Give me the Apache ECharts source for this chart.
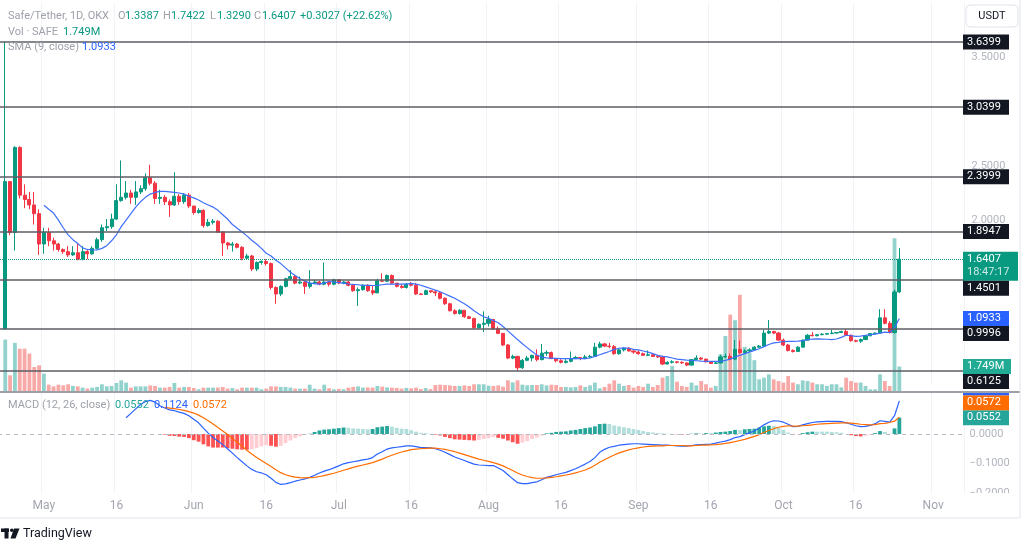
<!DOCTYPE html>
<html>
<head>
<meta charset="utf-8">
<script src="https://cdn.jsdelivr.net/npm/echarts@6/dist/echarts.min.js"></script>
<style>
html, body { margin: 0; padding: 0; background: #fff; }
#chart { width: 1024px; height: 541px; }
</style>
</head>
<body>
<div id="chart"></div>
<script>
// SAFE/USDT daily, OKX. First candle is 2023-04-23, one empty slot before it.
const firstDay = '2023-04-22';
const dayCount = 200;
const monthNames = ['Jan', 'Feb', 'Mar', 'Apr', 'May', 'Jun', 'Jul', 'Aug', 'Sep', 'Oct', 'Nov', 'Dec'];

const opens = [
  0.9996, 2.355, 1.886, 2.67, 2.23, 2.19, 2.14, 2.06, 1.78, 1.886,
  1.81, 1.78, 1.73, 1.71, 1.68, 1.70, 1.64, 1.71, 1.69, 1.74,
  1.82, 1.93, 1.94, 2.01, 2.18, 2.21, 2.25, 2.21, 2.26, 2.29,
  2.39, 2.34, 2.20, 2.21, 2.17, 2.14, 2.22, 2.17, 2.23, 2.13,
  2.07, 2.09, 1.95, 1.98, 1.99, 1.89, 1.79, 1.77, 1.78, 1.75,
  1.65, 1.67, 1.55, 1.61, 1.62, 1.60, 1.38, 1.32, 1.39, 1.46,
  1.48, 1.42, 1.43, 1.39, 1.42, 1.43, 1.41, 1.43, 1.41, 1.45,
  1.42, 1.43, 1.40, 1.35, 1.36, 1.40, 1.35, 1.33, 1.44, 1.438,
  1.49, 1.42, 1.39, 1.38, 1.41, 1.40, 1.32, 1.315, 1.35, 1.34,
  1.33, 1.28, 1.23, 1.165, 1.14, 1.17, 1.11, 1.095, 1.01, 1.04,
  1.05, 1.085, 1.00, 0.957, 0.85, 0.73, 0.745, 0.64, 0.709, 0.73,
  0.755, 0.715, 0.775, 0.78, 0.725, 0.705, 0.69, 0.70, 0.725, 0.735,
  0.725, 0.74, 0.745, 0.83, 0.86, 0.84, 0.835, 0.77, 0.805, 0.82,
  0.795, 0.785, 0.77, 0.755, 0.76, 0.745, 0.74, 0.675, 0.69, 0.695,
  0.69, 0.685, 0.665, 0.715, 0.73, 0.72, 0.695, 0.68, 0.685, 0.74,
  0.745, 0.72, 0.81, 0.78, 0.795, 0.805, 0.83, 0.84, 0.96, 0.975,
  0.96, 0.895, 0.85, 0.80, 0.79, 0.83, 0.895, 0.94, 0.935, 0.945,
  0.95, 0.955, 0.96, 0.965, 0.975, 0.94, 0.89, 0.885, 0.90, 0.935,
  0.955, 0.96, 1.10, 1.05, 0.965, 1.3387
];
const closes = [
  2.355, 1.886, 2.67, 2.23, 2.19, 2.14, 2.06, 1.78, 1.886, 1.81,
  1.78, 1.73, 1.71, 1.68, 1.70, 1.64, 1.71, 1.69, 1.74, 1.82,
  1.93, 1.94, 2.01, 2.18, 2.21, 2.25, 2.21, 2.26, 2.29, 2.39,
  2.34, 2.20, 2.21, 2.17, 2.14, 2.22, 2.17, 2.23, 2.13, 2.07,
  2.09, 1.95, 1.98, 1.99, 1.89, 1.79, 1.77, 1.78, 1.75, 1.65,
  1.67, 1.55, 1.61, 1.62, 1.60, 1.38, 1.32, 1.39, 1.46, 1.48,
  1.42, 1.43, 1.39, 1.42, 1.43, 1.41, 1.43, 1.41, 1.45, 1.42,
  1.43, 1.40, 1.35, 1.36, 1.40, 1.35, 1.33, 1.44, 1.438, 1.49,
  1.42, 1.39, 1.38, 1.41, 1.40, 1.32, 1.315, 1.35, 1.34, 1.33,
  1.28, 1.23, 1.165, 1.14, 1.17, 1.11, 1.095, 1.01, 1.04, 1.05,
  1.085, 1.00, 0.957, 0.85, 0.73, 0.745, 0.64, 0.709, 0.73, 0.755,
  0.715, 0.775, 0.78, 0.725, 0.705, 0.69, 0.70, 0.725, 0.735, 0.725,
  0.74, 0.745, 0.83, 0.86, 0.84, 0.835, 0.77, 0.805, 0.82, 0.795,
  0.785, 0.77, 0.755, 0.76, 0.745, 0.74, 0.675, 0.69, 0.695, 0.69,
  0.685, 0.665, 0.715, 0.73, 0.72, 0.695, 0.68, 0.685, 0.74, 0.745,
  0.72, 0.81, 0.78, 0.795, 0.805, 0.83, 0.84, 0.96, 0.975, 0.96,
  0.895, 0.85, 0.80, 0.79, 0.83, 0.895, 0.94, 0.935, 0.945, 0.95,
  0.955, 0.96, 0.965, 0.975, 0.94, 0.89, 0.885, 0.90, 0.935, 0.955,
  0.96, 1.10, 1.05, 0.965, 1.3387, 1.6407
];
const lows = [
  0.9996, 1.86, 1.72, 2.20, 2.11, 2.10, 1.96, 1.68, 1.69, 1.76,
  1.72, 1.71, 1.69, 1.66, 1.67, 1.63, 1.63, 1.64, 1.68, 1.73,
  1.80, 1.90, 1.92, 2.00, 2.17, 2.19, 2.15, 2.14, 2.24, 2.27,
  2.32, 2.15, 2.15, 2.14, 2.03, 2.13, 2.14, 2.15, 2.11, 2.05,
  2.06, 1.93, 1.94, 1.96, 1.88, 1.67, 1.73, 1.71, 1.74, 1.63,
  1.64, 1.53, 1.53, 1.59, 1.58, 1.36, 1.23, 1.30, 1.38, 1.45,
  1.41, 1.41, 1.32, 1.37, 1.41, 1.40, 1.40, 1.39, 1.40, 1.41,
  1.41, 1.39, 1.34, 1.21, 1.35, 1.34, 1.31, 1.33, 1.43, 1.43,
  1.41, 1.38, 1.37, 1.37, 1.39, 1.31, 1.31, 1.31, 1.33, 1.30,
  1.27, 1.22, 1.16, 1.13, 1.13, 1.10, 1.09, 1.00, 1.00, 0.97,
  1.02, 0.99, 0.95, 0.84, 0.72, 0.72, 0.6125, 0.63, 0.70, 0.70,
  0.70, 0.71, 0.75, 0.72, 0.69, 0.68, 0.68, 0.69, 0.72, 0.71,
  0.72, 0.73, 0.74, 0.82, 0.83, 0.82, 0.76, 0.76, 0.79, 0.79,
  0.77, 0.76, 0.75, 0.75, 0.74, 0.73, 0.665, 0.67, 0.68, 0.68,
  0.675, 0.655, 0.66, 0.71, 0.71, 0.69, 0.675, 0.675, 0.68, 0.73,
  0.71, 0.71, 0.77, 0.77, 0.785, 0.80, 0.825, 0.83, 0.95, 0.95,
  0.89, 0.84, 0.79, 0.78, 0.79, 0.83, 0.89, 0.93, 0.93, 0.94,
  0.945, 0.95, 0.955, 0.96, 0.935, 0.88, 0.875, 0.87, 0.895, 0.93,
  0.95, 0.955, 1.04, 0.955, 0.955, 1.3290
];
const highs = [
  3.6399, 2.36, 2.68, 2.68, 2.33, 2.26, 2.26, 2.10, 1.93, 1.93,
  1.84, 1.79, 1.74, 1.76, 1.76, 1.78, 1.76, 1.73, 1.76, 1.84,
  1.96, 2.01, 2.06, 2.33, 2.55, 2.36, 2.28, 2.36, 2.32, 2.43,
  2.51, 2.36, 2.28, 2.23, 2.19, 2.44, 2.24, 2.25, 2.25, 2.13,
  2.11, 2.10, 2.01, 2.01, 2.00, 1.90, 1.80, 1.80, 1.79, 1.76,
  1.69, 1.68, 1.62, 1.63, 1.64, 1.61, 1.39, 1.40, 1.47, 1.54,
  1.49, 1.48, 1.44, 1.54, 1.45, 1.44, 1.61, 1.44, 1.46, 1.45,
  1.44, 1.44, 1.41, 1.38, 1.41, 1.41, 1.40, 1.46, 1.51, 1.50,
  1.50, 1.42, 1.41, 1.42, 1.43, 1.42, 1.33, 1.36, 1.35, 1.35,
  1.34, 1.29, 1.24, 1.18, 1.18, 1.17, 1.12, 1.10, 1.05, 1.16,
  1.12, 1.09, 1.02, 0.96, 0.86, 0.76, 0.75, 0.72, 0.75, 0.76,
  0.81, 0.86, 0.80, 0.79, 0.73, 0.72, 0.72, 0.79, 0.75, 0.74,
  0.76, 0.76, 0.87, 0.88, 0.87, 0.87, 0.85, 0.82, 0.83, 0.83,
  0.80, 0.80, 0.78, 0.80, 0.77, 0.76, 0.75, 0.70, 0.71, 0.70,
  0.70, 0.69, 0.72, 0.755, 0.74, 0.725, 0.70, 0.695, 0.76, 0.77,
  0.77, 0.895, 0.89, 0.81, 0.82, 0.84, 0.85, 0.99, 1.08, 0.98,
  0.97, 0.91, 0.86, 0.81, 0.84, 0.90, 0.95, 0.97, 0.95, 0.96,
  0.96, 0.99, 0.97, 0.98, 0.995, 0.945, 0.90, 0.91, 0.94, 0.96,
  0.965, 1.18, 1.18, 1.07, 1.36, 1.7422
];
// volume in millions of SAFE
const volumes = [
  3.67, 1.12, 3.43, 3.02, 3.02, 2.67, 1.71, 1.83, 1.24, 0.45,
  0.33, 0.45, 0.40, 0.48, 0.36, 0.33, 0.24, 0.17, 0.24, 0.29,
  0.48, 0.33, 0.36, 0.57, 0.76, 0.60, 0.24, 0.33, 0.33, 0.33,
  0.40, 0.36, 0.24, 0.24, 0.29, 0.57, 0.24, 0.29, 0.29, 0.21,
  0.12, 0.24, 0.24, 0.24, 0.24, 0.29, 0.17, 0.21, 0.12, 0.24,
  0.24, 0.24, 0.24, 0.12, 0.17, 0.33, 0.33, 0.29, 0.29, 0.24,
  0.17, 0.17, 0.17, 0.45, 0.17, 0.12, 0.45, 0.20, 0.12, 0.15,
  0.12, 0.24, 0.29, 0.33, 0.24, 0.26, 0.24, 0.36, 0.31, 0.26,
  0.24, 0.22, 0.17, 0.22, 0.19, 0.24, 0.14, 0.21, 0.14, 0.43,
  0.45, 0.43, 0.40, 0.36, 0.36, 0.40, 0.36, 0.48, 0.48, 0.48,
  0.38, 0.36, 0.40, 0.31, 0.76, 0.62, 0.76, 0.45, 0.40, 0.43,
  0.43, 0.48, 0.40, 0.45, 0.43, 0.29, 0.29, 0.26, 0.29, 0.40,
  0.29, 0.40, 0.60, 0.19, 0.29, 0.52, 0.76, 0.52, 0.36, 0.43,
  0.24, 0.36, 0.29, 0.52, 0.29, 0.43, 0.95, 1.07, 1.79, 0.67,
  0.36, 0.29, 0.60, 0.40, 0.71, 0.48, 0.24, 0.36, 2.62, 3.93,
  5.45, 5.05, 6.86, 3.14, 2.70, 2.20, 0.83, 0.95, 1.19, 0.83,
  0.71, 0.60, 1.07, 0.60, 0.48, 0.76, 0.71, 0.60, 0.48, 0.48,
  0.36, 0.48, 0.48, 0.26, 0.95, 0.71, 0.60, 0.60, 0.36, 0.12,
  0.12, 1.19, 0.71, 0.36, 10.9, 1.749
];
// SMA(9) from candle 8
const sma9 = [
  2.137, 2.10, 2.065, 2.00, 1.93, 1.865, 1.82, 1.785, 1.745, 1.73,
  1.725, 1.725, 1.74, 1.765, 1.81, 1.865, 1.94, 2.00, 2.06, 2.12,
  2.17, 2.21, 2.24, 2.255, 2.265, 2.265, 2.26, 2.255, 2.25, 2.24,
  2.22, 2.205, 2.185, 2.16, 2.14, 2.12, 2.09, 2.05, 2.01, 1.96,
  1.925, 1.89, 1.855, 1.815, 1.78, 1.74, 1.695, 1.67, 1.63, 1.60,
  1.56, 1.52, 1.49, 1.46, 1.44, 1.42, 1.415, 1.41, 1.42, 1.435,
  1.43, 1.425, 1.42, 1.412, 1.408, 1.405, 1.40, 1.40, 1.398, 1.40,
  1.405, 1.41, 1.41, 1.412, 1.41, 1.41, 1.418, 1.41, 1.40, 1.385,
  1.37, 1.355, 1.34, 1.32, 1.30, 1.28, 1.255, 1.23, 1.20, 1.165,
  1.135, 1.11, 1.095, 1.075, 1.055, 1.02, 0.98, 0.94, 0.90, 0.862,
  0.826, 0.79, 0.758, 0.739, 0.731, 0.73, 0.727, 0.724, 0.725, 0.724,
  0.724, 0.724, 0.725, 0.73, 0.745, 0.76, 0.775, 0.79, 0.81, 0.82,
  0.824, 0.82, 0.81, 0.805, 0.795, 0.785, 0.77, 0.755, 0.745, 0.74,
  0.73, 0.72, 0.715, 0.71, 0.708, 0.705, 0.702, 0.70, 0.70, 0.70,
  0.70, 0.708, 0.72, 0.74, 0.755, 0.77, 0.785, 0.80, 0.815, 0.835,
  0.855, 0.87, 0.875, 0.882, 0.884, 0.884, 0.885, 0.89, 0.90, 0.905,
  0.907, 0.905, 0.903, 0.90, 0.905, 0.92, 0.94, 0.935, 0.93, 0.931,
  0.94, 0.945, 0.95, 0.96, 0.968, 0.965, 1.01, 1.0933
];
// MACD(12, 26) line from candle 25
const macdLine = [
  0.055, 0.07, 0.085, 0.10, 0.11, 0.114, 0.108, 0.096, 0.088, 0.082,
  0.079, 0.074, 0.070, 0.062, 0.050, 0.038, 0.020, 0.003, -0.012, -0.024,
  -0.036, -0.050, -0.065, -0.080, -0.094, -0.108, -0.120, -0.128, -0.132, -0.138,
  -0.150, -0.164, -0.171, -0.169, -0.165, -0.160, -0.156, -0.152, -0.147, -0.140,
  -0.132, -0.126, -0.121, -0.115, -0.108, -0.101, -0.097, -0.094, -0.091, -0.088,
  -0.085, -0.080, -0.068, -0.060, -0.051, -0.047, -0.045, -0.043, -0.040, -0.040,
  -0.043, -0.046, -0.046, -0.047, -0.050, -0.055, -0.062, -0.070, -0.078, -0.084,
  -0.090, -0.096, -0.102, -0.105, -0.106, -0.107, -0.107, -0.115, -0.124, -0.138,
  -0.152, -0.165, -0.168, -0.168, -0.165, -0.162, -0.155, -0.147, -0.143, -0.138,
  -0.134, -0.130, -0.124, -0.118, -0.110, -0.102, -0.093, -0.080, -0.062, -0.052,
  -0.045, -0.042, -0.038, -0.036, -0.034, -0.033, -0.033, -0.034, -0.035, -0.036,
  -0.037, -0.038, -0.038, -0.039, -0.040, -0.041, -0.041, -0.039, -0.037, -0.036,
  -0.035, -0.034, -0.031, -0.027, -0.024, -0.019, -0.012, -0.009, -0.002, 0.004,
  0.010, 0.020, 0.031, 0.040, 0.045, 0.044, 0.040, 0.033, 0.025, 0.026,
  0.031, 0.035, 0.039, 0.041, 0.042, 0.043, 0.043, 0.043, 0.042, 0.038,
  0.033, 0.028, 0.025, 0.026, 0.029, 0.035, 0.045, 0.043, 0.040, 0.062,
  0.1124
];
// signal (9) from candle 33
const signalLine = [
  0.090, 0.088, 0.086, 0.083, 0.080, 0.076, 0.071, 0.064, 0.055, 0.045,
  0.034, 0.022, 0.010, -0.002, -0.015, -0.028, -0.041, -0.055, -0.068, -0.080,
  -0.090, -0.100, -0.110, -0.121, -0.131, -0.138, -0.143, -0.146, -0.148, -0.149,
  -0.148, -0.147, -0.144, -0.141, -0.137, -0.133, -0.128, -0.123, -0.118, -0.113,
  -0.109, -0.105, -0.101, -0.097, -0.091, -0.085, -0.078, -0.072, -0.066, -0.061,
  -0.057, -0.053, -0.051, -0.050, -0.049, -0.048, -0.048, -0.050, -0.052, -0.056,
  -0.060, -0.065, -0.070, -0.075, -0.080, -0.085, -0.089, -0.093, -0.097, -0.102,
  -0.108, -0.116, -0.124, -0.132, -0.139, -0.144, -0.148, -0.150, -0.150, -0.149,
  -0.147, -0.145, -0.142, -0.139, -0.136, -0.132, -0.127, -0.122, -0.115, -0.106,
  -0.096, -0.087, -0.079, -0.071, -0.064, -0.059, -0.054, -0.050, -0.047, -0.044,
  -0.042, -0.041, -0.040, -0.040, -0.039, -0.039, -0.039, -0.039, -0.040, -0.040,
  -0.039, -0.038, -0.038, -0.037, -0.036, -0.034, -0.032, -0.029, -0.026, -0.022,
  -0.018, -0.013, -0.008, -0.002, 0.005, 0.012, 0.018, 0.023, 0.026, 0.028,
  0.027, 0.027, 0.028, 0.029, 0.031, 0.033, 0.034, 0.035, 0.036, 0.037,
  0.038, 0.038, 0.037, 0.035, 0.033, 0.032, 0.031, 0.032, 0.035, 0.036,
  0.039, 0.0434, 0.0572
];
// histogram from candle 33
const macdHist = [
  -0.002, -0.006, -0.007, -0.009, -0.010, -0.014, -0.021, -0.026, -0.035, -0.042,
  -0.046, -0.046, -0.046, -0.048, -0.050, -0.052, -0.053, -0.053, -0.052, -0.048,
  -0.042, -0.038, -0.040, -0.043, -0.040, -0.031, -0.022, -0.014, -0.008, -0.003,
  0.001, 0.007, 0.012, 0.015, 0.016, 0.018, 0.020, 0.022, 0.021, 0.019,
  0.018, 0.017, 0.016, 0.017, 0.023, 0.025, 0.027, 0.025, 0.021, 0.018,
  0.017, 0.013, 0.008, 0.004, 0.003, 0.001, -0.002, -0.005, -0.010, -0.014,
  -0.018, -0.019, -0.020, -0.021, -0.022, -0.020, -0.017, -0.014, -0.010, -0.013,
  -0.016, -0.022, -0.028, -0.033, -0.029, -0.024, -0.017, -0.012, -0.005, 0.002,
  0.004, 0.007, 0.008, 0.009, 0.012, 0.014, 0.017, 0.020, 0.022, 0.026,
  0.034, 0.035, 0.034, 0.029, 0.026, 0.023, 0.020, 0.017, 0.014, 0.010,
  0.007, 0.005, 0.003, 0.002, 0.001, 0.000, -0.001, -0.002, -0.001, 0.001,
  0.002, 0.002, 0.003, 0.003, 0.005, 0.007, 0.008, 0.010, 0.014, 0.013,
  0.016, 0.017, 0.018, 0.022, 0.026, 0.028, 0.027, 0.021, 0.014, 0.005,
  -0.002, -0.001, 0.003, 0.006, 0.008, 0.008, 0.008, 0.008, 0.007, 0.006,
  0.004, 0.000, -0.004, -0.007, -0.008, -0.006, -0.002, 0.003, 0.010, 0.007,
  0.001, 0.019, 0.0552
];
// horizontal levels drawn on the chart
const levels = [3.6399, 3.0399, 2.3999, 1.8947, 1.4501, 0.9996, 0.6125];
const countdown = '18:47:17';

const upColor = '#089981';
const downColor = '#f23645';
const volUp = 'rgba(38,166,154,0.5)';
const volDown = 'rgba(239,83,80,0.5)';
const grayText = '#a3a6af';
const font = 'Roboto, "Noto Sans", sans-serif';
const lead = 1;

const days = [];
const d0 = new Date(firstDay + 'T00:00:00Z');
for (let k = 0; k < dayCount; k++) {
  days.push(new Date(d0.getTime() + k * 86400000).toISOString().slice(0, 10));
}
function place(arr, start) {
  return days.map((_, k) => {
    const j = k - lead - start;
    return j >= 0 && j < arr.length ? arr[j] : '-';
  });
}
const candleData = days.map((_, k) => {
  const j = k - lead;
  return j >= 0 && j < closes.length ? [opens[j], closes[j], lows[j], highs[j]] : ['-', '-', '-', '-'];
});
const volData = days.map((_, k) => {
  const j = k - lead;
  if (j < 0 || j >= volumes.length) return '-';
  return { value: volumes[j], itemStyle: { color: closes[j] >= opens[j] ? volUp : volDown } };
});
const histData = days.map((_, k) => {
  const j = k - lead - 33;
  if (j < 0 || j >= macdHist.length) return '-';
  const v = macdHist[j];
  const prev = j > 0 ? macdHist[j - 1] : 0;
  let c;
  if (v >= 0) c = prev < v ? '#26a69a' : '#b2dfdb';
  else c = prev < v ? '#ffcdd2' : '#ff5252';
  return { value: v, itemStyle: { color: c } };
});

const isTick = (idx, val) => { const dd = val.slice(8); return dd === '01' || dd === '16'; };
const tickLabel = val => val.slice(8) === '01' ? monthNames[+val.slice(5, 7) - 1] : '16';

const gridX = { left: -2, right: 59.4, containLabel: false, outerBoundsMode: 'none' };
const lastClose = closes[closes.length - 1];

const option = {
  animation: false,
  backgroundColor: '#fff',
  grid: [
    Object.assign({ top: 3, height: 380 }, gridX),
    Object.assign({ top: 0, height: 391 }, gridX),
    Object.assign({ top: 393, height: 100 }, gridX)
  ],
  xAxis: [
    { type: 'category', gridIndex: 0, data: days, boundaryGap: true,
      axisLine: { show: false }, axisTick: { show: false }, axisLabel: { show: false },
      splitLine: { show: true, interval: isTick, lineStyle: { color: '#f0f2f6', width: 1 } } },
    { type: 'category', gridIndex: 1, data: days, boundaryGap: true, show: false },
    { type: 'category', gridIndex: 2, data: days, boundaryGap: true,
      axisLine: { show: false }, axisTick: { show: false },
      axisLabel: { interval: isTick, formatter: tickLabel, color: grayText, fontSize: 12, fontFamily: font, margin: 7 },
      splitLine: { show: true, interval: isTick, lineStyle: { color: '#f0f2f6', width: 1 } } }
  ],
  yAxis: [
    { type: 'value', gridIndex: 0, position: 'right', min: 0.5, max: 4, interval: 0.5, scale: false,
      axisLine: { show: false }, axisTick: { show: false }, splitLine: { show: false },
      axisLabel: { color: '#b2b5be', fontSize: 11, fontFamily: font, margin: 7,
        formatter: v => (v > 3.9 ? '' : v.toFixed(4)) } },
    { type: 'value', gridIndex: 1, min: 0, max: 27.9, show: false },
    { type: 'value', gridIndex: 2, position: 'right', min: -0.2, max: 0.139, interval: 0.1,
      axisLine: { show: false }, axisTick: { show: false }, splitLine: { show: false },
      axisLabel: { color: '#b2b5be', fontSize: 11, fontFamily: font, margin: 5, showMaxLabel: false,
        formatter: v => (v > 0.05 ? '' : (v < -0.0001 ? '\u2212' + Math.abs(v).toFixed(4) : '0.0000')) } }
  ],
  series: [
    { name: 'Vol', type: 'bar', xAxisIndex: 1, yAxisIndex: 1, data: volData, barWidth: 3.8, z: 1, silent: true },
    { name: 'SAFE', type: 'candlestick', xAxisIndex: 0, yAxisIndex: 0, data: candleData, barWidth: 3.6, z: 3,
      itemStyle: { color: upColor, color0: downColor, borderColor: upColor, borderColor0: downColor, borderWidth: 1 },
      markLine: {
        silent: true, symbol: ['none', 'none'], label: { show: false },
        data: levels.map(v => ({ yAxis: v, lineStyle: { color: '#5b5e66', width: 1.5, type: 'solid' } }))
          .concat([{ yAxis: lastClose, lineStyle: { color: upColor, width: 1, type: 'dotted' } }])
      } },
    { name: 'SMA', type: 'line', xAxisIndex: 0, yAxisIndex: 0, data: place(sma9, 8), showSymbol: false,
      lineStyle: { color: '#3f6ffb', width: 1.2 }, z: 4, silent: true },
    { name: 'Hist', type: 'bar', xAxisIndex: 2, yAxisIndex: 2, data: histData, barWidth: 3.8, z: 2, silent: true,
      markLine: { silent: true, symbol: ['none', 'none'], label: { show: false },
        data: [{ yAxis: 0, lineStyle: { color: '#b8bbc3', width: 1, type: [4, 4] } }] } },
    { name: 'MACD', type: 'line', xAxisIndex: 2, yAxisIndex: 2, data: place(macdLine, 25), showSymbol: false,
      lineStyle: { color: '#2962ff', width: 1.2 }, z: 4, silent: true },
    { name: 'Signal', type: 'line', xAxisIndex: 2, yAxisIndex: 2, data: place(signalLine, 33), showSymbol: false,
      lineStyle: { color: '#ff6d00', width: 1.2 }, z: 4, silent: true }
  ]
};

const chart = echarts.init(document.getElementById('chart'), null, { renderer: 'canvas' });
chart.setOption(option);

// ---- overlay: legends, price-scale tags, frame ----
const G = [];
function txt(x, y, text, color, size, extra) {
  G.push(Object.assign({ type: 'text', x: x, y: y, z: 120, silent: true,
    style: { text: text, fill: color, font: (size || 11) + 'px ' + font,
      align: 'left', verticalAlign: 'middle', textAlign: 'left', textVerticalAlign: 'middle' } }, extra || {}));
}
// top legend
const lg = '#9ea1a9';
txt(8, 16, 'Safe/Tether, 1D, OKX', lg);
txt(118, 16, 'O', lg); txt(125, 16, opens[opens.length - 1].toFixed(4), upColor);
txt(163, 16, 'H', lg); txt(171, 16, highs[highs.length - 1].toFixed(4), upColor);
txt(210, 16, 'L', lg); txt(217, 16, lows[lows.length - 1].toFixed(4), upColor);
txt(254, 16, 'C', lg); txt(262, 16, lastClose.toFixed(4), upColor);
txt(300, 16, '+0.3027 (+22.62%)', upColor);
txt(8, 32, 'Vol \u00b7 SAFE', lg); txt(63, 32, volumes[volumes.length - 1].toFixed(3) + 'M', upColor);
txt(8, 47, 'SMA (9, close)', lg); txt(82, 47, sma9[sma9.length - 1].toFixed(4), '#2962ff');
txt(8, 405, 'MACD (12, 26, close)', lg);
txt(115, 405, macdHist[macdHist.length - 1].toFixed(4), '#26a69a');
txt(154, 405, macdLine[macdLine.length - 1].toFixed(4), '#2962ff');
txt(193, 405, signalLine[signalLine.length - 1].toFixed(4), '#ff6d00');

// hide lower half of the cut −0.2000 label under the time scale
G.push({ type: 'rect', z: 90, silent: true, shape: { x: 963, y: 493, width: 57, height: 25 }, style: { fill: '#fff' } });

// pane separator and frame
G.push({ type: 'line', z: 95, silent: true, shape: { x1: 0, y1: 392, x2: 1020, y2: 392 }, style: { stroke: '#7d8089', lineWidth: 1.5 } });
G.push({ type: 'line', z: 95, silent: true, shape: { x1: 0, y1: 518, x2: 1020, y2: 518 }, style: { stroke: '#e0e3eb', lineWidth: 1 } });
G.push({ type: 'line', z: 95, silent: true, shape: { x1: 1020, y1: 0, x2: 1020, y2: 518 }, style: { stroke: '#e0e3eb', lineWidth: 1 } });

// USDT button
G.push({ type: 'rect', z: 110, silent: true, shape: { x: 966, y: 5, width: 52, height: 22, r: 4 }, style: { fill: '#fff', stroke: '#e0e3eb', lineWidth: 1 } });
G.push({ type: 'text', z: 111, silent: true, x: 992, y: 16.5, style: { text: 'USDT', fill: '#131722', font: '11px ' + font, align: 'center', verticalAlign: 'middle', textAlign: 'center', textVerticalAlign: 'middle' } });

// TradingView logo
const logo = '#131722';
G.push({ type: 'rect', z: 110, silent: true, shape: { x: 1, y: 528.5, width: 8, height: 3.5 }, style: { fill: logo } });
G.push({ type: 'rect', z: 110, silent: true, shape: { x: 4.5, y: 528.5, width: 4, height: 10 }, style: { fill: logo } });
G.push({ type: 'circle', z: 110, silent: true, shape: { cx: 11.8, cy: 530.3, r: 1.8 }, style: { fill: logo } });
G.push({ type: 'polygon', z: 110, silent: true, shape: { points: [[14, 528.5], [19.5, 528.5], [15.5, 538.5], [10.5, 538.5]] }, style: { fill: logo } });
txt(23, 533.5, 'TradingView', logo, 12.5);

// price-scale tags
function tag(top, h, w, bg, lines, clipTop) {
  let y0 = top, hh = h;
  if (clipTop !== undefined && y0 < clipTop) { hh = h - (clipTop - y0); y0 = clipTop; }
  if (hh <= 0) return;
  G.push({ type: 'rect', z: 100, silent: true, shape: { x: 963, y: y0, width: w, height: hh }, style: { fill: bg } });
  lines.forEach((t, n) => {
    const cy = top + 7.5 + n * 13.5;
    if (clipTop !== undefined && cy - 4 < clipTop) return;
    G.push({ type: 'text', z: 101, silent: true, x: 967, y: cy,
      style: { text: t, fill: n ? 'rgba(255,255,255,0.8)' : '#fff', font: '11px ' + font,
        align: 'left', verticalAlign: 'middle', textAlign: 'left', textVerticalAlign: 'middle' } });
  });
}
const py = v => chart.convertToPixel({ yAxisIndex: 0 }, v);
const priceTags = levels.map(v => ({ y: py(v), lines: [v.toFixed(4)], bg: '#131722', w: 46 }));
priceTags.push({ y: py(lastClose), lines: [lastClose.toFixed(4), countdown], bg: upColor, w: 55 });
priceTags.push({ y: py(sma9[sma9.length - 1]), lines: [sma9[sma9.length - 1].toFixed(4)], bg: '#2962ff', w: 46 });
priceTags.push({ y: chart.convertToPixel({ yAxisIndex: 1 }, volumes[volumes.length - 1]),
  lines: [volumes[volumes.length - 1].toFixed(3) + 'M'], bg: '#22ab94', w: 48 });
priceTags.sort((a, b) => a.y - b.y);
let below = -Infinity;
priceTags.forEach(t => {
  const h = t.lines.length > 1 ? 29 : 15;
  const top = Math.max(t.y - 7.5, below);
  tag(top, h, t.w, t.bg, t.lines);
  below = top + h;
});

const my = v => chart.convertToPixel({ yAxisIndex: 2 }, v);
const macdTags = [
  { v: macdHist[macdHist.length - 1], bg: '#26a69a' },
  { v: signalLine[signalLine.length - 1], bg: '#ff6d00' },
  { v: macdLine[macdLine.length - 1], bg: '#2962ff' }
].map(t => Object.assign(t, { y: my(t.v) })).sort((a, b) => b.y - a.y);
let above = Infinity;
macdTags.forEach(t => {
  const bottom = Math.min(t.y + 7.5, above);
  tag(bottom - 15, 15, 46, t.bg, [t.v.toFixed(4)], 393);
  above = bottom - 15;
});

chart.setOption({ graphic: { elements: G } });
</script>
</body>
</html>
